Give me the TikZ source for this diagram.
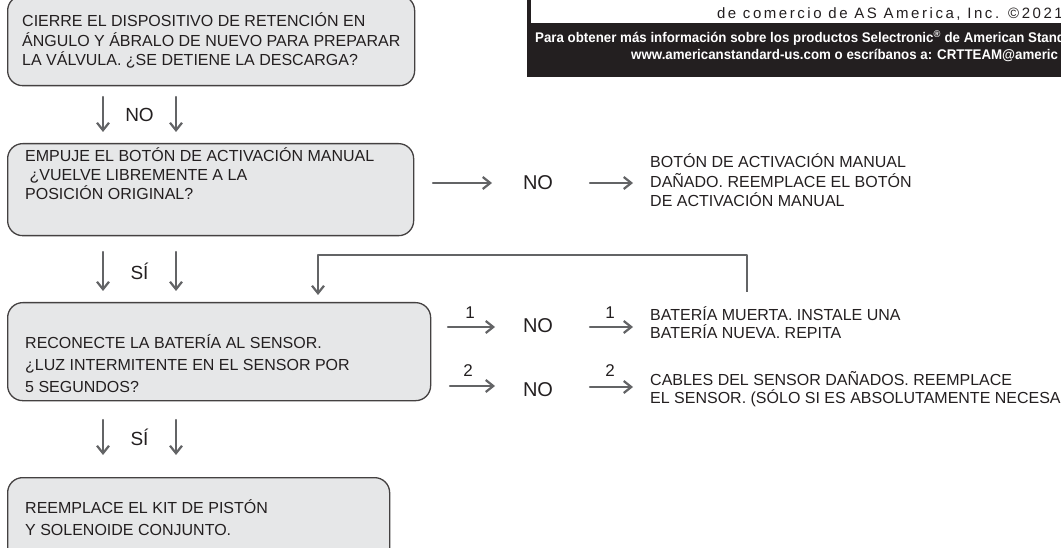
\documentclass[tikz,border=0pt]{standalone}
\usepackage{fontspec}
\setmainfont{Liberation Sans}
\newfontfamily\spacedfont[LetterSpace=17]{Liberation Sans}
\newfontfamily\boldnarrow[FakeStretch=0.95]{Liberation Sans Bold}
\usetikzlibrary{arrows.meta,calc}
\definecolor{cajagris}{HTML}{E6E7E8}
\definecolor{flechagris}{HTML}{636466}
\definecolor{tinta}{HTML}{231F20}
\begin{document}
\begin{tikzpicture}[x=1pt,y=-1pt,line join=round,line cap=round,
    >={Straight Barb[length=7.5pt,width=12pt]},
    caja/.style={draw=tinta!85,fill=cajagris,line width=1.3pt,rounded corners=15pt,
      anchor=north west,inner sep=0pt},
    texto/.style={anchor=base west,align=left,inner sep=0pt,text=tinta},
    etiq/.style={inner sep=0pt,text=tinta,font=\fontsize{19}{22}\selectfont},
    num/.style={inner sep=0pt,text=tinta,font=\fontsize{17}{19}\selectfont},
    flecha/.style={->,draw=flechagris,line width=2.2pt}]
	\useasboundingbox (0,0) rectangle (1061,548);
	\clip (0,0) rectangle (1061,548);
	%%Cajas
	\node[caja,minimum width=407pt,minimum height=90pt] (c1) at (7,-5) {};
	\node[caja,minimum width=406pt,minimum height=92pt] (c2) at (7,143) {};
	\node[caja,minimum width=423pt,minimum height=98pt] (c3) at (7,302) {};
	\node[caja,minimum width=382pt,minimum height=95pt] (c4) at (7,477) {};
	%% (base = ultima linea)
	\node[texto,font=\fontsize{16}{19.5}\selectfont] (t1) at (22,66)
		{CIERRE EL DISPOSITIVO DE RETENCIÓN EN\\ÁNGULO Y ÁBRALO DE NUEVO PARA PREPARAR\\LA VÁLVULA. ¿SE DETIENE LA DESCARGA?};
	\node[texto,font=\fontsize{16}{19}\selectfont] (t2) at (25,200)
		{EMPUJE EL BOTÓN DE ACTIVACIÓN MANUAL\\\ ¿VUELVE LIBREMENTE A LA\\POSICIÓN ORIGINAL?};
	\node[texto,font=\fontsize{16}{22}\selectfont] (t3) at (25,392)
		{RECONECTE LA BATERÍA AL SENSOR.\\¿LUZ INTERMITENTE EN EL SENSOR POR\\5 SEGUNDOS?};
	\node[texto,font=\fontsize{16}{22}\selectfont] (t4) at (25,535)
		{REEMPLACE EL KIT DE PISTÓN\\Y SOLENOIDE CONJUNTO.};
	%%Flechas hacia abajo
	\foreach \ya/\yb/\lab/\n in {97/132/NO/a,252/291/SÍ/b,420/455/SÍ/c}{
			\path (103,\ya) coordinate(\n1) (103,\yb) coordinate(\n2)
				(176,\ya) coordinate(\n3) (176,\yb) coordinate(\n4);
			\draw[flecha] (\n1)--(\n2);
			\draw[flecha] (\n3)--(\n4);
			\node[etiq] (l\n) at ($(\n1)!0.5!(\n4)$) {\lab};
		}
	%%Retorno
	\path (747,292)coordinate(R1) (747,255)coordinate(R2) (318,255)coordinate(R3) (318,295)coordinate(R4);
	\draw[flechagris,line width=2pt,line cap=butt] (R1)--(R2)--(R3);
	\draw[flecha] (R3)--(R4);
	%%Salidas a la derecha
	\path
		(433,183)coordinate(A1) (492,183)coordinate(A2) (590,183)coordinate(A3) (633,183)coordinate(A4)
		(448,327)coordinate(B1) (495,327)coordinate(B2) (590,327)coordinate(B3) (633,327)coordinate(B4)
		(450,386)coordinate(C1) (495,386)coordinate(C2) (590,387)coordinate(C3) (633,387)coordinate(C4);
	\foreach \f in {A,B,C}{
			\draw[flecha] (\f1)--(\f2);
			\draw[flecha] (\f3)--(\f4);
		}
	\node[etiq,font=\fontsize{20}{22}\selectfont] (nA) at (538,183) {NO};
	\node[etiq,font=\fontsize{20}{22}\selectfont] (nB) at (538,326) {NO};
	\node[etiq,font=\fontsize{20}{22}\selectfont] (nC) at (538,390) {NO};
	\node[num] (dB1) at (470,313) {1};
	\node[num] (dB2) at (610,313) {1};
	\node[num] (dC1) at (468,371) {2};
	\node[num] (dC2) at (610,371) {2};
	\node[texto,font=\fontsize{16}{19.5}\selectfont] (rA) at (650,207)
		{BOTÓN DE ACTIVACIÓN MANUAL\\DAÑADO. REEMPLACE EL BOTÓN\\DE ACTIVACIÓN MANUAL};
	\node[texto,font=\fontsize{16}{18.5}\selectfont] (rB) at (650,338.5)
		{BATERÍA MUERTA. INSTALE UNA\\BATERÍA NUEVA. REPITA};
	\node[texto,font=\fontsize{16}{18.5}\selectfont] (rC) at (650,403.5)
		{CABLES DEL SENSOR DAÑADOS. REEMPLACE\\EL SENSOR. (SÓLO SI ES ABSOLUTAMENTE NECESA};
	%%Recuadro superior
	\fill[tinta] (527,-2) rectangle (1063,77);
	\draw[fill=white,line width=0.8pt,draw=tinta] (530,-4) rectangle (1064,23);
	\node[anchor=base east,inner sep=0pt,text=tinta,font=\spacedfont\fontsize{15}{17}\selectfont] (marca) at (1063,19)
		{de comercio de AS America, Inc. ©2021};
	\node[anchor=base west,inner sep=0pt,text=white,font=\boldnarrow\fontsize{14}{16}\selectfont] (info1) at (535,43)
		{Para obtener más información sobre los productos Selectronic\textsuperscript{®} de American Stand};
	\node[anchor=base west,inner sep=0pt,text=white,font=\boldnarrow\fontsize{14}{16}\selectfont] (info2) at (631,60)
		{www.americanstandard-us.com o escríbanos a: CRTTEAM@americ};
\end{tikzpicture}
\end{document}
